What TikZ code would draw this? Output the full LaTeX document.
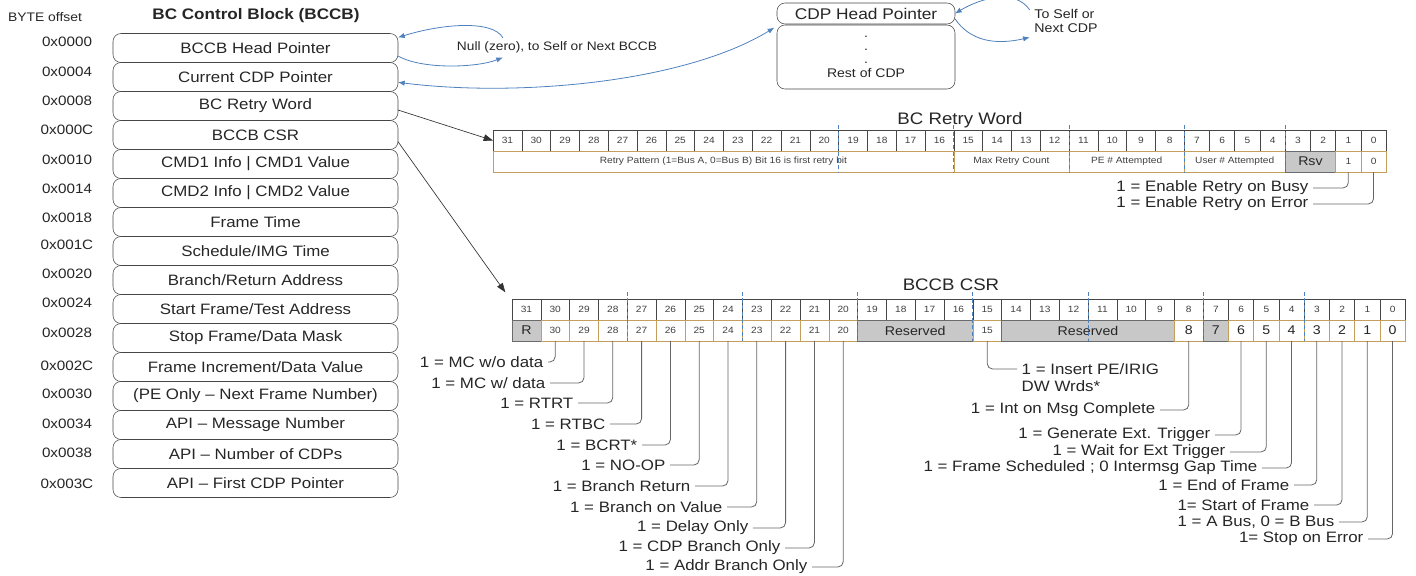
\documentclass[tikz,border=0pt]{standalone}
\usepackage{fontspec}
\setmainfont{Liberation Sans}[FakeStretch=1.12]
\usetikzlibrary{arrows.meta,positioning}

\definecolor{ptrblue}{RGB}{79,129,189}
\definecolor{fldtan}{RGB}{196,158,92}
\definecolor{rsvgray}{RGB}{200,200,200}
\definecolor{celledge}{RGB}{70,70,70}

\newcommand\fs[1]{\fontsize{#1}{#1}\selectfont}
% bottom row field of a register, from bit #3 down to bit #4
\newcommand\fld[5][fldbox]{\node[#1,minimum width={(bl(#4)+bw(#4)-bl(#3))*0.75pt}] (#2) at ({(bl(#3)+bl(#4)+bw(#4))/2},31.5) {#5};}

\tikzset{
  blk/.style={draw=celledge,rounded corners=6pt,minimum width=213.75pt,minimum height=21.75pt,inner sep=0pt,outer sep=0pt,font=\fs{11.3},text=black!85},
  offs/.style={font=\fs{10.2},text=black!85},
  bitno/.style={draw=celledge,fill=white,minimum height=15.75pt,inner sep=0pt,outer sep=0pt,font=\fs{6.8},text=black!75},
  fldbox/.style={draw=fldtan,fill=white,minimum height=15.75pt,inner sep=0pt,outer sep=0pt,font=\fs{6.8},text=black!75},
  rsv/.style={fldbox,draw=celledge!80,fill=rsvgray,font=\fs{9.5},text=black!85},
  big/.style={font=\fs{9.5},text=black!85},
  nibble/.style={ptrblue,densely dashed,line width=0.6pt},
  ptr/.style={ptrblue,line width=0.6pt,-{Latex[length=5pt,width=4pt]}},
  blkarrow/.style={black!80,line width=0.5pt,-{Triangle[length=7pt,width=5pt]}},
  note/.style={font=\fs{11.3},text=black!85,anchor=east},
  callout/.style={black!60,line width=0.6pt,rounded corners=4pt},
  regtitle/.style={font=\fs{12.5},text=black!85}
}

\begin{document}
\begin{tikzpicture}[x=0.75pt,y=-0.75pt,
  declare function={bl(\n)=(\n>7)*(31-\n)*28.8+(\n<8)*(691.2+(7-\n)*25.25);
                    bw(\n)=(\n>7)*28.8+(\n<8)*25.25;}]
\useasboundingbox (0,0) rectangle (1416,575);

% control block
\node[font=\fs{9.3},text=black!85] (byteoff) at (45,17) {BYTE offset};
\node[font=\fs{11.45}\bfseries,text=black!85] (bccb) at (256,16) {BC Control Block (BCCB)};
\foreach \o/\oy/\t [count=\i] in {0x0000/42/BCCB Head Pointer,0x0004/72/Current CDP Pointer,0x0008/101/BC Retry Word,
  0x000C/130/BCCB CSR,0x0010/160/CMD1 Info | CMD1 Value,0x0014/189/CMD2 Info | CMD2 Value,0x0018/218/Frame Time,
  0x001C/245/{Schedule/IMG Time},0x0020/274/{Branch/Return Address},0x0024/303/{Start Frame/Test Address},
  0x0028/333/{Stop Frame/Data Mask},0x002C/366/{Frame Increment/Data Value},0x0030/394/(PE Only – Next Frame Number),
  0x0034/424/API – Message Number,0x0038/453/API – Number of CDPs,0x003C/484/API – First CDP Pointer}{
  \node[blk] (b\i) at (255.5,{48+29*(\i-1)}) {\t};
  \node[offs] (o\i) at (67,\oy) {\o};
}

% CDP
\node[blk,minimum width=133.5pt,minimum height=15.75pt,font=\fs{11.6}] (cdph) at (866,13.5) {CDP Head Pointer};
\node[blk,minimum width=133.5pt,minimum height=48pt,font=\fontsize{9.4}{9.6}\selectfont,align=center] (cdpr) at (866,57) {.\\.\\.\\[1pt]Rest of CDP};
\node[font=\fontsize{9.5}{10.5}\selectfont,text=black!85,align=left] (tocdp) at (1066,21) {To Self or\\Next CDP};
\node[font=\fs{9.2},text=black!85] (null) at (557,47) {Null (zero), to Self or Next BCCB};

\draw[ptr] ([xshift=38pt,yshift=-1pt]null.north west) .. controls +(-10,-18) and +(45,-14) .. ([yshift=-3pt]b1.north east);
\draw[ptr] ([yshift=-6pt]b1.east) .. controls +(25,14) and +(-25,10) .. ([xshift=38pt]null.south west);
\draw[ptr,{Latex[length=5pt,width=4pt]}-{Latex[length=5pt,width=4pt]}] ([xshift=-2pt,yshift=-2pt]cdpr.north west) .. controls +(-90,55) and +(120,15) .. ([yshift=-4pt]b2.east);
\draw[ptr] ([yshift=-4pt]tocdp.north west) .. controls +(-15,-22) and +(25,-15) .. (cdph.east);
\draw[ptr] ([yshift=-4pt]cdph.east) .. controls +(15,22) and +(-35,8) .. (tocdp.south west);

% BC Retry Word
\node[regtitle] (rwtitle) at (960,120) {BC Retry Word};
\begin{scope}[shift={(493,130)}]
  \foreach \i in {31,...,0}
    \node[bitno,minimum width={bw(\i)*0.75pt}] (rw\i) at ({bl(\i)+bw(\i)/2},10.5) {\i};
  \fld{rwpat}{31}{16}{Retry Pattern (1=Bus A, 0=Bus B) Bit 16 is first retry bit}
  \fld{rwmax}{15}{12}{Max Retry Count}
  \fld{rwpe}{11}{8}{PE \# Attempted}
  \fld{rwuser}{7}{4}{User \# Attempted}
  \fld[rsv]{rwrsv}{3}{2}{Rsv}
  \fld{rwf1}{1}{1}{1}
  \fld{rwf0}{0}{0}{0}
  \foreach \i in {19,15,11,7,3}
    \draw[nibble] ({bl(\i)},-5) -- ({bl(\i)},42);
\end{scope}
\node[note] (rbusy) at (1313,188) {1 = Enable Retry on Busy};
\node[note] (rerr) at (1313,204) {1 = Enable Retry on Error};
\draw[callout] (rwf1.south) |- (rbusy.east);
\draw[callout] (rwf0.south) |- (rerr.east);

% BCCB CSR
\node[regtitle] (cstitle) at (951,285) {BCCB CSR};
\begin{scope}[shift={(512,299)}]
  \foreach \i in {31,...,0}
    \node[bitno,minimum width={bw(\i)*0.75pt}] (cs\i) at ({bl(\i)+bw(\i)/2},10.5) {\i};
  \fld[rsv]{csf31}{31}{31}{R}
  \foreach \i in {30,...,20}
    \fld{csf\i}{\i}{\i}{\i}
  \fld[rsv]{csrsva}{19}{16}{Reserved}
  \fld{csf15}{15}{15}{15}
  \fld[rsv]{csrsvb}{14}{9}{Reserved}
  \fld[fldbox,big]{csf8}{8}{8}{8}
  \fld[rsv]{csf7}{7}{7}{7}
  \foreach \i in {6,...,0}
    \fld[fldbox,big]{csf\i}{\i}{\i}{\i}
  \foreach \i in {27,23,19,15,11,7,3}
    \draw[nibble] ({bl(\i)},-7) -- ({bl(\i)},42);
\end{scope}

\draw[blkarrow] ([yshift=-3pt]b3.east) -- (rw31.west);
\draw[blkarrow] ([yshift=-5pt]b4.east) -- ([xshift=-5pt,yshift=5pt]cs31.north west);

% CSR bit callouts
\foreach \i/\t/\x/\y in {30/{1 = MC w/o data}/548/362,29/{1 = MC w/ data}/550/383,28/{1 = RTRT}/578/403,
  27/{1 = RTBC}/610/424,26/{1 = BCRT*}/642/445,25/{1 = NO-OP}/670/465,24/{1 = Branch Return}/695/486,
  23/{1 = Branch on Value}/727/507,22/{1 = Delay Only}/753/528,21/{1 = CDP Branch Only}/785/548,
  20/{1 = Addr Branch Only}/812/567,8/{1 = Int on Msg Complete}/1160/410,6/{1 = Generate Ext. Trigger}/1215/435,
  5/{1 = Wait for Ext Trigger}/1230/452,4/{1 = Frame Scheduled ; 0 Intermsg Gap Time}/1262/468,
  3/{1 = End of Frame}/1294/485,2/{1= Start of Frame}/1314/505,1/{1 = A Bus, 0 = B Bus}/1339/522,
  0/{1= Stop on Error}/1368/539}{
  \node[note] (l\i) at (\x,\y) {\t};
  \draw[callout] (csf\i.south) |- (l\i.east);
}
\node[note,anchor=west] (ins1) at (1017,369) {1 = Insert PE/IRIG};
\node[note,anchor=west] (ins2) at (1017,386) {DW Wrds*};
\draw[callout] (csf15.south) |- (ins1.west);
\end{tikzpicture}
\end{document}
